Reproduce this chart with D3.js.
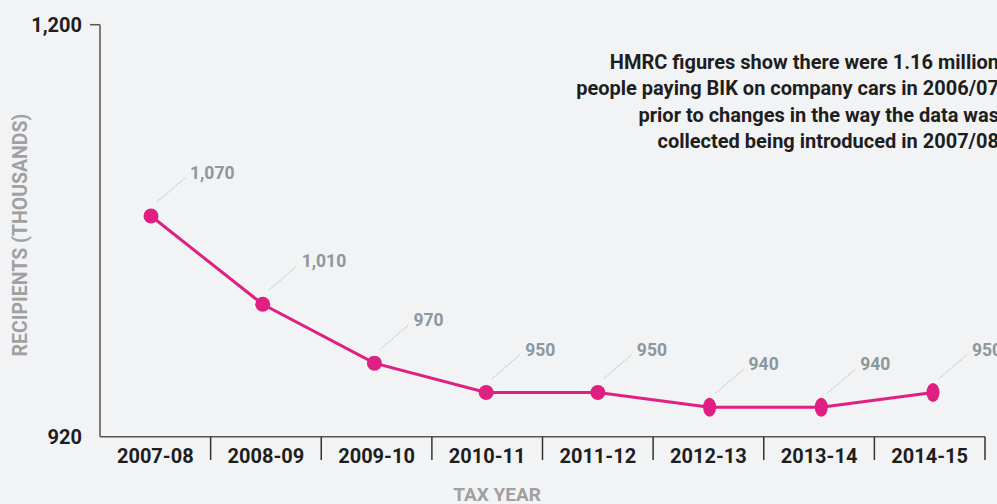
<!DOCTYPE html>
<html>
<head>
<meta charset="utf-8">
<script src="https://cdn.jsdelivr.net/npm/d3@7"></script>
<style>
  body { margin: 0; background: #f2f3f5; }
  svg { display: block; font-family: Roboto, "Open Sans", sans-serif; }
</style>
</head>
<body>
<script>
var years = ["2007-08", "2008-09", "2009-10", "2010-11", "2011-12", "2012-13", "2013-14", "2014-15"];
var recipients = [1070, 1010, 970, 950, 950, 940, 940, 950];
var yTicks = [920, 1200];
var note = [
  "HMRC figures show there were 1.16 million",
  "people paying BIK on company cars in 2006/07",
  "prior to changes in the way the data was",
  "collected being introduced in 2007/08"
];

var w = 997, h = 504;
var svg = d3.select("body").append("svg").attr("width", w).attr("height", h);

var y = d3.scaleLinear().domain([920, 1200]).range([436.7, 24.7]);
var xBand = d3.scaleBand().domain(years).range([100, 985]);
var xPt = d3.scalePoint().domain(years).range([151, 933]);

// y axis
svg.append("line")
  .attr("x1", 100).attr("x2", 100)
  .attr("y1", y(1200)).attr("y2", y(920))
  .attr("stroke", "#555").attr("stroke-width", 1.5);

svg.selectAll(".ytick")
  .data(yTicks.filter(function(d){ return d != 920; }))
  .enter().append("line")
  .attr("x1", 90).attr("x2", 100)
  .attr("y1", function(d){ return y(d); })
  .attr("y2", function(d){ return y(d); })
  .attr("stroke", "#555").attr("stroke-width", 1.5);

svg.selectAll(".ylab")
  .data(yTicks)
  .enter().append("text")
  .attr("x", 82)
  .attr("y", function(d){ return y(d) + 7; })
  .attr("text-anchor", "end")
  .attr("font-size", "20px").attr("font-weight", "bold")
  .attr("fill", "#1e1e1e")
  .text(function(d){ return d3.format(",")(d); });

// x axis
svg.append("line")
  .attr("x1", 100).attr("x2", 985)
  .attr("y1", y(920)).attr("y2", y(920))
  .attr("stroke", "#555").attr("stroke-width", 1.5);

svg.selectAll(".xsep")
  .data(years)
  .enter().append("line")
  .attr("x1", function(d){ return xBand(d) + xBand.bandwidth(); })
  .attr("x2", function(d){ return xBand(d) + xBand.bandwidth(); })
  .attr("y1", y(920)).attr("y2", 460)
  .attr("stroke", "#333").attr("stroke-width", 1.5);

svg.selectAll(".xlab")
  .data(years)
  .enter().append("text")
  .attr("x", function(d){ return xBand(d) + xBand.bandwidth()/2; })
  .attr("y", 463)
  .attr("text-anchor", "middle")
  .attr("font-size", "20px").attr("font-weight", "bold")
  .attr("fill", "#1e1e1e")
  .text(function(d){ return d; });

// axis titles
svg.append("text")
  .attr("transform", "translate(27," + 235 + ") rotate(-90)")
  .attr("text-anchor", "middle")
  .attr("font-size", "19.5px").attr("font-weight", "bold")
  .attr("fill", "#a0a0a0")
  .text("RECIPIENTS (THOUSANDS)");

svg.append("text")
  .attr("x", 497).attr("y", 501)
  .attr("text-anchor", "middle")
  .attr("font-size", "19px").attr("font-weight", "bold")
  .attr("fill", "#a0a0a0")
  .text("TAX YEAR");

// note
svg.append("text")
  .attr("text-anchor", "end")
  .attr("font-size", "20px").attr("font-weight", "bold")
  .attr("fill", "#1e1e1e")
  .selectAll("tspan")
  .data(note)
  .enter().append("tspan")
  .attr("x", 999)
  .attr("y", function(d, i){ return 69 + i * 26.3; })
  .text(function(d){ return d; });

// leader lines + value labels
svg.selectAll(".lead")
  .data(recipients)
  .enter().append("line")
  .attr("x1", function(d, i){ return xPt(years[i]) + 6; })
  .attr("y1", function(d){ return y(d) - 14; })
  .attr("x2", function(d, i){ return xPt(years[i]) + 34; })
  .attr("y2", function(d){ return y(d) - 38; })
  .attr("stroke", "#b5b9bd").attr("stroke-width", 1)
  .attr("stroke-dasharray", "1.5,1");

svg.selectAll(".vlab")
  .data(recipients)
  .enter().append("text")
  .attr("x", function(d, i){ return xPt(years[i]) + 39; })
  .attr("y", function(d){ return y(d) - 37; })
  .attr("font-size", "17.5px").attr("font-weight", "bold")
  .attr("fill", "#8c979e")
  .text(function(d){ return d3.format(",")(d); });

// line
var line = d3.line()
  .x(function(d, i){ return xPt(years[i]); })
  .y(function(d){ return y(d); });

svg.append("path")
  .datum(recipients)
  .attr("d", line)
  .attr("fill", "none")
  .attr("stroke", "#e01f83")
  .attr("stroke-width", 3);

svg.selectAll(".pt")
  .data(recipients)
  .enter().append("ellipse")
  .attr("cx", function(d, i){ return xPt(years[i]); })
  .attr("cy", function(d){ return y(d); })
  .attr("rx", function(d, i){ return i < 5 ? 7.5 : 6.5; })
  .attr("ry", function(d, i){ return i < 5 ? 7.5 : 9.5; })
  .attr("fill", "#e01f83");
</script>
</body>
</html>
